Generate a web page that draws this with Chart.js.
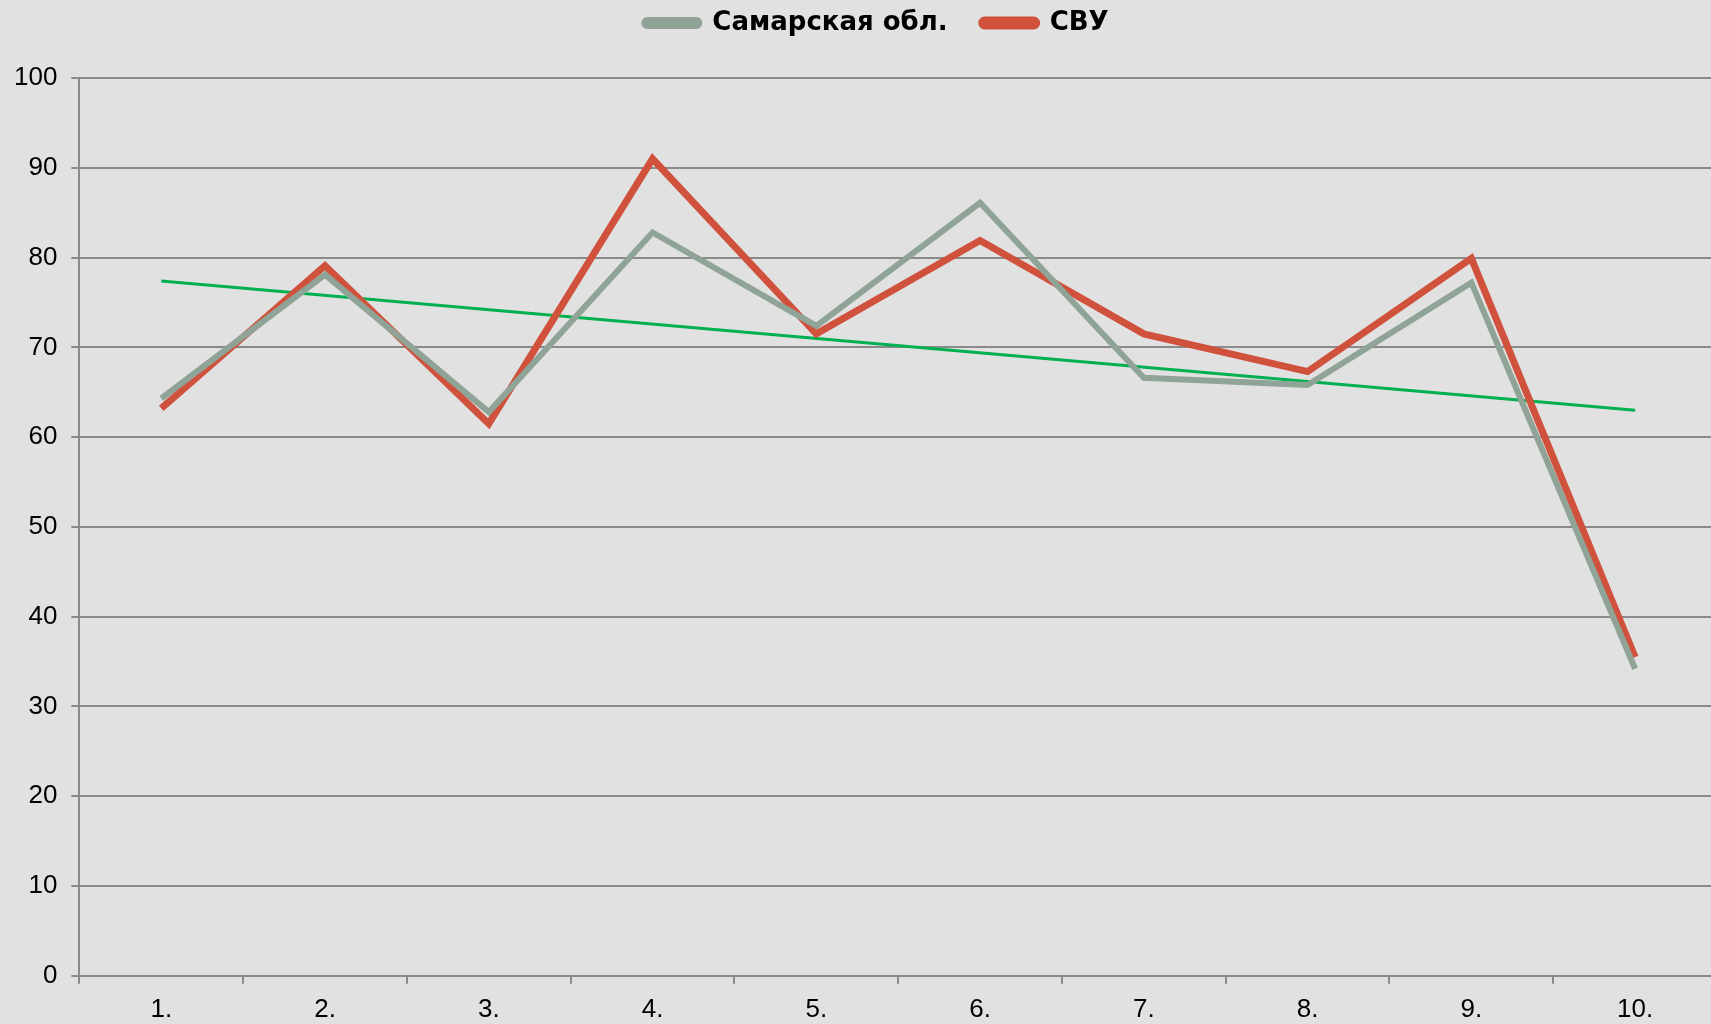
<!DOCTYPE html>
<html>
<head>
<meta charset="utf-8">
<script src="https://cdn.jsdelivr.net/npm/chart.js@4"></script>
<style>
  html, body { margin: 0; padding: 0; overflow: hidden; background: #e1e1e1; }
  #wrap { width: 1717px; height: 1035px; }
</style>
</head>
<body>
<div id="wrap"><canvas id="grafico"></canvas></div>
<script>
// datos
const categorias = ['1.', '2.', '3.', '4.', '5.', '6.', '7.', '8.', '9.', '10.']
const samarskaya = [64.3, 78.1, 62.8, 82.8, 72.4, 86.1, 66.6, 65.8, 77.2, 34.2]
const svu = [63.2, 79.1, 61.5, 91.0, 71.5, 81.9, 71.5, 67.3, 79.9, 35.5]
// linea de tendencia (solo extremos)
const tendencia = [77.4, null, null, null, null, null, null, null, null, 63.0]
const nombres = ['Самарская обл.', 'СВУ']

const fuente = "'Liberation Sans', Arial, sans-serif"
const fuenteLeyenda = "'DejaVu Sans', sans-serif"
const ctx = document.getElementById('grafico')

// la leyenda ocupa menos alto y se mueve un poco
const ajusteLeyenda = {
    id: 'ajusteLeyenda',
    beforeInit(chart) {
        const fitOriginal = chart.legend.fit
        chart.legend.fit = function () {
            fitOriginal.call(this)
            this.height = 78
        }
    },
    afterLayout(chart) {
        chart.legend.top -= 24
        chart.legend.bottom -= 24
        chart.legend.left += 18
        chart.legend.right += 18
    }
}

const grafico = new Chart(ctx, {
    type: 'line',
    data: {
        labels: categorias,
        datasets: [{
            label: nombres[0],
            data: samarskaya,
            borderColor: '#8fa396',
            backgroundColor: '#8fa396',
            borderWidth: 6,
            pointRadius: 0,
            tension: 0
        }, {
            label: nombres[1],
            data: svu,
            borderColor: '#d0513c',
            backgroundColor: '#d0513c',
            borderWidth: 7,
            pointRadius: 0,
            tension: 0
        }, {
            label: 'trend',
            data: tendencia,
            borderColor: '#00b050',
            backgroundColor: '#00b050',
            borderWidth: 3,
            pointRadius: 0,
            spanGaps: true
        }]
    },
    options: {
        responsive: true,
        maintainAspectRatio: false,
        animation: false,
        layout: { padding: { left: 0, right: 0, top: 0, bottom: 0 } },
        plugins: {
            tooltip: { enabled: false },
            legend: {
                position: 'top',
                labels: {
                    filter: item => item.text !== 'trend',
                    color: '#000',
                    font: { family: fuenteLeyenda, size: 26, weight: 'bold' },
                    boxWidth: 55,
                    boxHeight: 6,
                    useBorderRadius: true,
                    borderRadius: 3,
                    padding: 34
                }
            }
        },
        scales: {
            x: {
                offset: true,
                grid: {
                    offset: true,
                    drawOnChartArea: false,
                    color: '#8a8a8a',
                    lineWidth: 2,
                    tickLength: 8
                },
                border: { color: '#8a8a8a', width: 2 },
                ticks: {
                    color: '#000',
                    font: { family: fuente, size: 26 },
                    padding: 10,
                    maxRotation: 0
                }
            },
            y: {
                min: 0,
                max: 100,
                ticks: {
                    stepSize: 10,
                    color: '#000',
                    font: { family: fuente, size: 26 },
                    padding: 14
                },
                grid: {
                    color: '#8a8a8a',
                    lineWidth: 2,
                    tickLength: 8
                },
                border: { color: '#8a8a8a', width: 2 }
            }
        }
    },
    plugins: [ajusteLeyenda]
})
</script>
</body>
</html>
